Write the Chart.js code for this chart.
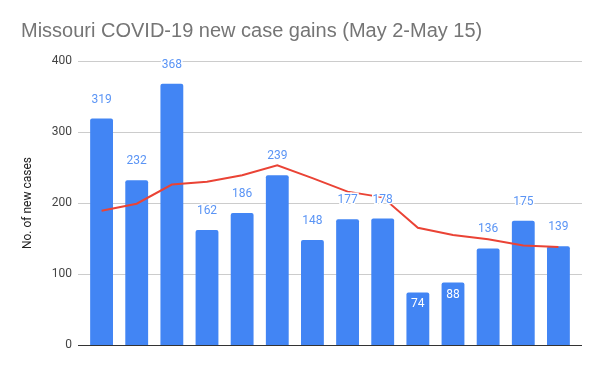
<!DOCTYPE html>
<html lang="en">
<head>
  <meta charset="UTF-8">
  <title>Missouri COVID-19 new case gains</title>
  <style>
    html, body { margin: 0; padding: 0; background: #fff; }
    #wrap { width: 600px; height: 371px; }
  </style>
</head>
<body>
  <div id="wrap"><canvas id="chart" width="600" height="371"></canvas></div>
  <script src="https://cdn.jsdelivr.net/npm/chart.js@4"></script>
  <script>
    const days = ['May 2', 'May 3', 'May 4', 'May 5', 'May 6', 'May 7', 'May 8',
                  'May 9', 'May 10', 'May 11', 'May 12', 'May 13', 'May 14', 'May 15'];
    const newCases = [319, 232, 368, 162, 186, 239, 148, 177, 178, 74, 88, 136, 175, 139];
    const trend = [189, 199, 226, 230, 239, 253, 235, 216, 208, 165, 155, 149, 140, 138];
    const yTicks = [0, 100, 200, 300, 400];

    const blue = '#4285f4';
    const red = '#ea4335';

    // horizontal gridlines, a bit wider than the bar area
    const gridLines = {
      id: 'gridLines',
      beforeDatasetsDraw(chart) {
        const { ctx, chartArea, scales } = chart;
        ctx.save();
        ctx.lineWidth = 1;
        yTicks.forEach(v => {
          const y = Math.round(scales.y.getPixelForValue(v)) + 0.5;
          ctx.strokeStyle = v === 0 ? '#333333' : '#cccccc';
          ctx.beginPath();
          ctx.moveTo(chartArea.left - 6, y);
          ctx.lineTo(chartArea.right + 6, y);
          ctx.stroke();
        });
        ctx.restore();
      }
    };

    // value labels above the bars (inside for short bars)
    const barLabels = {
      id: 'barLabels',
      afterDatasetsDraw(chart) {
        const ctx = chart.ctx;
        const meta = chart.getDatasetMeta(1);
        ctx.save();
        ctx.font = '12px Roboto';
        ctx.textAlign = 'center';
        ctx.textBaseline = 'middle';
        meta.data.forEach((bar, i) => {
          const v = newCases[i];
          if (v < 100) {
            ctx.fillStyle = '#ffffff';
            ctx.fillText(v, bar.x, bar.y + 12);
          } else {
            ctx.lineWidth = 3;
            ctx.strokeStyle = '#ffffff';
            ctx.strokeText(v, bar.x, bar.y - 19);
            ctx.fillStyle = '#5a94f5';
            ctx.fillText(v, bar.x, bar.y - 19);
          }
        });
        ctx.restore();
      }
    };

    new Chart(document.querySelector('#chart'), {
      data: {
        labels: days,
        datasets: [
          {
            type: 'line',
            data: trend,
            borderColor: red,
            borderWidth: 2,
            pointRadius: 0,
            tension: 0,
            order: 0
          },
          {
            type: 'bar',
            data: newCases,
            backgroundColor: blue,
            categoryPercentage: 1,
            barPercentage: 0.65,
            borderRadius: { topLeft: 2, topRight: 2 },
            borderSkipped: 'bottom',
            order: 1
          }
        ]
      },
      options: {
        responsive: false,
        animation: false,
        layout: { padding: { left: 21, right: 24, bottom: 26, top: 0 } },
        plugins: {
          legend: { display: false },
          tooltip: { enabled: false },
          title: {
            display: true,
            text: 'Missouri COVID-19 new case gains (May 2-May 15)',
            align: 'start',
            color: '#757575',
            font: { family: 'Liberation Sans', size: 20, weight: 'normal', lineHeight: 1.2 },
            padding: { top: 19, bottom: 18 }
          }
        },
        scales: {
          x: { display: false },
          y: {
            min: 0,
            max: 400,
            afterBuildTicks(scale) { scale.ticks = yTicks.map(v => ({ value: v })); },
            afterFit(scale) { scale.width = 63; },
            border: { display: false },
            grid: { display: false, drawTicks: false },
            ticks: {
              color: '#444444',
              padding: 12,
              font: { family: 'Roboto', size: 12 }
            },
            title: {
              display: true,
              text: 'No. of new cases',
              color: '#222222',
              font: { family: 'Roboto', size: 12 },
              padding: { top: 0, bottom: 4 }
            }
          }
        }
      },
      plugins: [gridLines, barLabels]
    });
  </script>
</body>
</html>
